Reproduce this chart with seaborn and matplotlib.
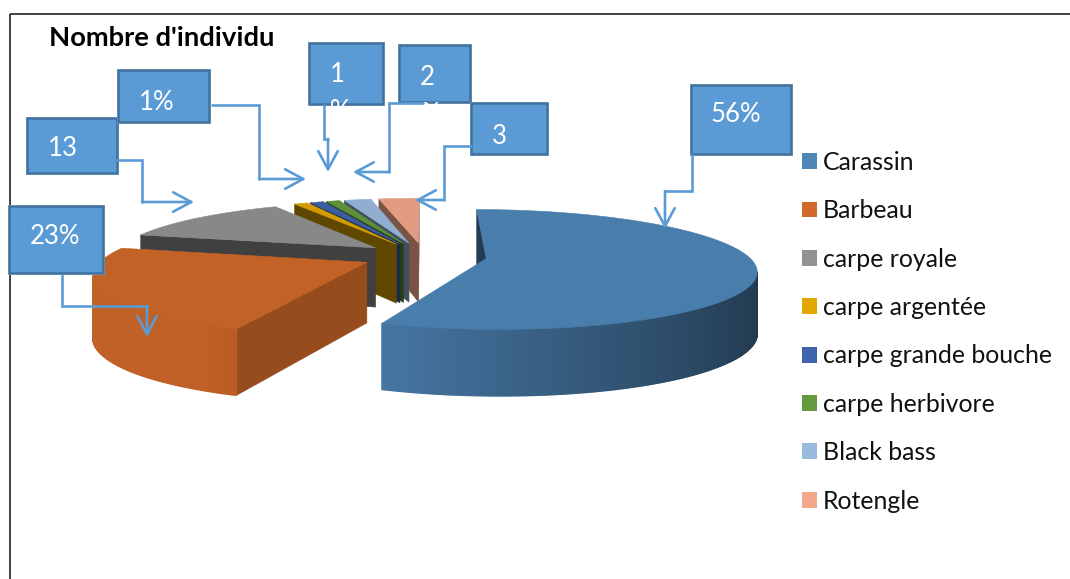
import numpy as np
import matplotlib
matplotlib.use("Agg")
import matplotlib.pyplot as plt
from matplotlib.patches import Polygon, Rectangle
import seaborn as sns

# ---- data ----
categories = ["Carassin", "Barbeau", "carpe royale", "carpe argentée",
              "carpe grande bouche", "carpe herbivore", "Black bass", "Rotengle"]
values = [56, 23, 13, 1, 1, 1, 2, 3]
colors = ["#4F86B8", "#D2692A", "#929292", "#E2A800",
          "#3E64AC", "#659A3E", "#9ABBE0", "#F2A88C"]
title = "Nombre d'individu"
callout_labels = ["56%", "23%", "13", "1%", "1\n%", "2\n%", "3"]

# ---- style ----
sns.set_theme(style="white")
plt.rcParams["font.family"] = ["Lato", "DejaVu Sans"]
palette = sns.color_palette(colors)
BOX = "#5B9BD5"; BOX_EDGE = "#41719C"; BOX_HALO = "#BDD7EE"

# projection of the exploded, tilted pie
CX, CY = 424, 256
RX, HY, K = 262, 57, 0.18
EXPLODE, DEPTH = 0.24, 60
TOP_SHADE = 0.93
radial_shade = [0.45, 0.72, 0.44, 0.42, 0.42, 0.40, 0.42, 0.50]

fig = plt.figure(figsize=(10.70, 5.79), dpi=100, facecolor="white")
ax = fig.add_axes([0, 0, 1, 1])
ax.set_xlim(0, 1070); ax.set_ylim(579, 0); ax.axis("off")

ax.add_patch(Rectangle((10, 14), 1200, 700, fc="none", ec="#222222", lw=1.2, zorder=0))


def project(x, y):
    s = 1 / (1 + K * y)
    return CX + RX * x * s, CY - HY * y * s, DEPTH * np.sqrt(s)


def shade(c, f):
    return tuple(min(1, ch * f) for ch in c)


def area(p):
    p = np.asarray(p)
    x, y = p[:, 0], p[:, 1]
    return np.sum(x * np.roll(y, -1) - np.roll(x, -1) * y)


def wall(pa, pb, color, lw=0.4):
    quad = [(pa[0], pa[1]), (pb[0], pb[1]), (pb[0], pb[1] + pb[2]), (pa[0], pa[1] + pa[2])]
    if area(quad) < 0:
        ax.add_patch(Polygon(quad, fc=color, ec=color, lw=lw, zorder=2))


fractions = np.array(values, dtype=float) / sum(values)
edges = np.concatenate([[0], np.cumsum(fractions)]) * 2 * np.pi

for i in reversed(range(len(values))):
    a, b = edges[i], edges[i + 1]
    mid = (a + b) / 2
    ex, ey = EXPLODE * np.sin(mid), EXPLODE * np.cos(mid)
    th = np.linspace(a, b, max(3, int((b - a) / np.radians(0.5)) + 1))
    arc = [project(ex + np.sin(t), ey + np.cos(t)) for t in th]
    apex = project(ex, ey)
    c = palette[i]
    # radial walls
    rc = shade(c, radial_shade[i])
    wall(apex, arc[0], rc)
    wall(arc[-1], apex, rc)
    # outer wall with a light falloff to the right
    for t0, p0, p1 in zip(th[:-1], arc[:-1], arc[1:]):
        wall(p0, p1, shade(c, np.clip(0.756 - 0.336 * np.sin(t0), 0, 0.92)), lw=1.0)
    # top face
    top = [(apex[0], apex[1])] + [(p[0], p[1]) for p in arc]
    tc = shade(c, TOP_SHADE)
    ax.add_patch(Polygon(top, fc=tc, ec=tc, lw=0.4, zorder=2))

# ---- callouts ----
callouts = [
    ((691, 85, 791, 154), (711, 115), [(692, 155), (692, 191), (665, 191), (665, 229)]),
    ((9, 206, 103, 273), (30, 237), [(62, 275), (62, 306), (147, 306), (147, 337)]),
    ((27, 118, 117, 173), (48, 149), [(117, 160), (142, 160), (142, 202), (194, 202)]),
    ((118, 70, 209, 122), (139, 102), [(212, 105), (259, 105), (259, 179), (306, 179)]),
    ((309, 43, 383, 104), (330, 62), [(324, 105), (324, 139), (328, 139), (328, 172)]),
    ((399, 45, 470, 102), (420, 65), [(423, 103), (389, 103), (389, 172), (353, 172)]),
    ((471, 103, 547, 154), (492, 136), [(471, 146), (443.5, 146), (443.5, 200), (415, 200)]),
]
for label, (box, tpos, path) in zip(callout_labels, callouts):
    x0, y0, x1, y1 = box
    ax.add_patch(Rectangle((x0 - 1.5, y0 - 1.5), x1 - x0 + 3, y1 - y0 + 3, fc=BOX_HALO, ec="none", zorder=3))
    rect = Rectangle((x0, y0), x1 - x0, y1 - y0, fc=BOX, ec=BOX_EDGE, lw=1.8, zorder=3)
    ax.add_patch(rect)
    multi = "\n" in label
    t = ax.text(tpos[0], tpos[1], label, color="white", fontsize=18.5, zorder=4, ha="left",
                va="top" if multi else "center", linespacing=1.6)
    t.set_clip_path(rect)
    pts = np.array(path)
    ax.plot(pts[:-1, 0], pts[:-1, 1], color=BOX, lw=1.9, solid_joinstyle="miter", zorder=5)
    ax.annotate("", xy=path[-1], xytext=path[-2], xycoords="data", textcoords="data", zorder=5,
                arrowprops=dict(arrowstyle="->,head_length=13,head_width=7", mutation_scale=1,
                                color=BOX, lw=1.9, shrinkA=0, shrinkB=0))

ax.text(49, 38, title, fontsize=19.7, fontweight="bold", color="black", ha="left", va="center", zorder=6)

# ---- legend ----
handles = [Rectangle((0, 0), 1, 1, fc=c, ec="none") for c in palette]
ax.legend(handles, categories, loc="upper left", bbox_to_anchor=(802 / 1070, 1 - 151 / 579),
          bbox_transform=fig.transFigure, frameon=False, fontsize=17.9, labelcolor="#111111",
          handlelength=0.6, handleheight=0.6, handletextpad=0.25, labelspacing=1.02,
          borderpad=0, borderaxespad=0)

fig.savefig("out.png", dpi=100, facecolor="white")
